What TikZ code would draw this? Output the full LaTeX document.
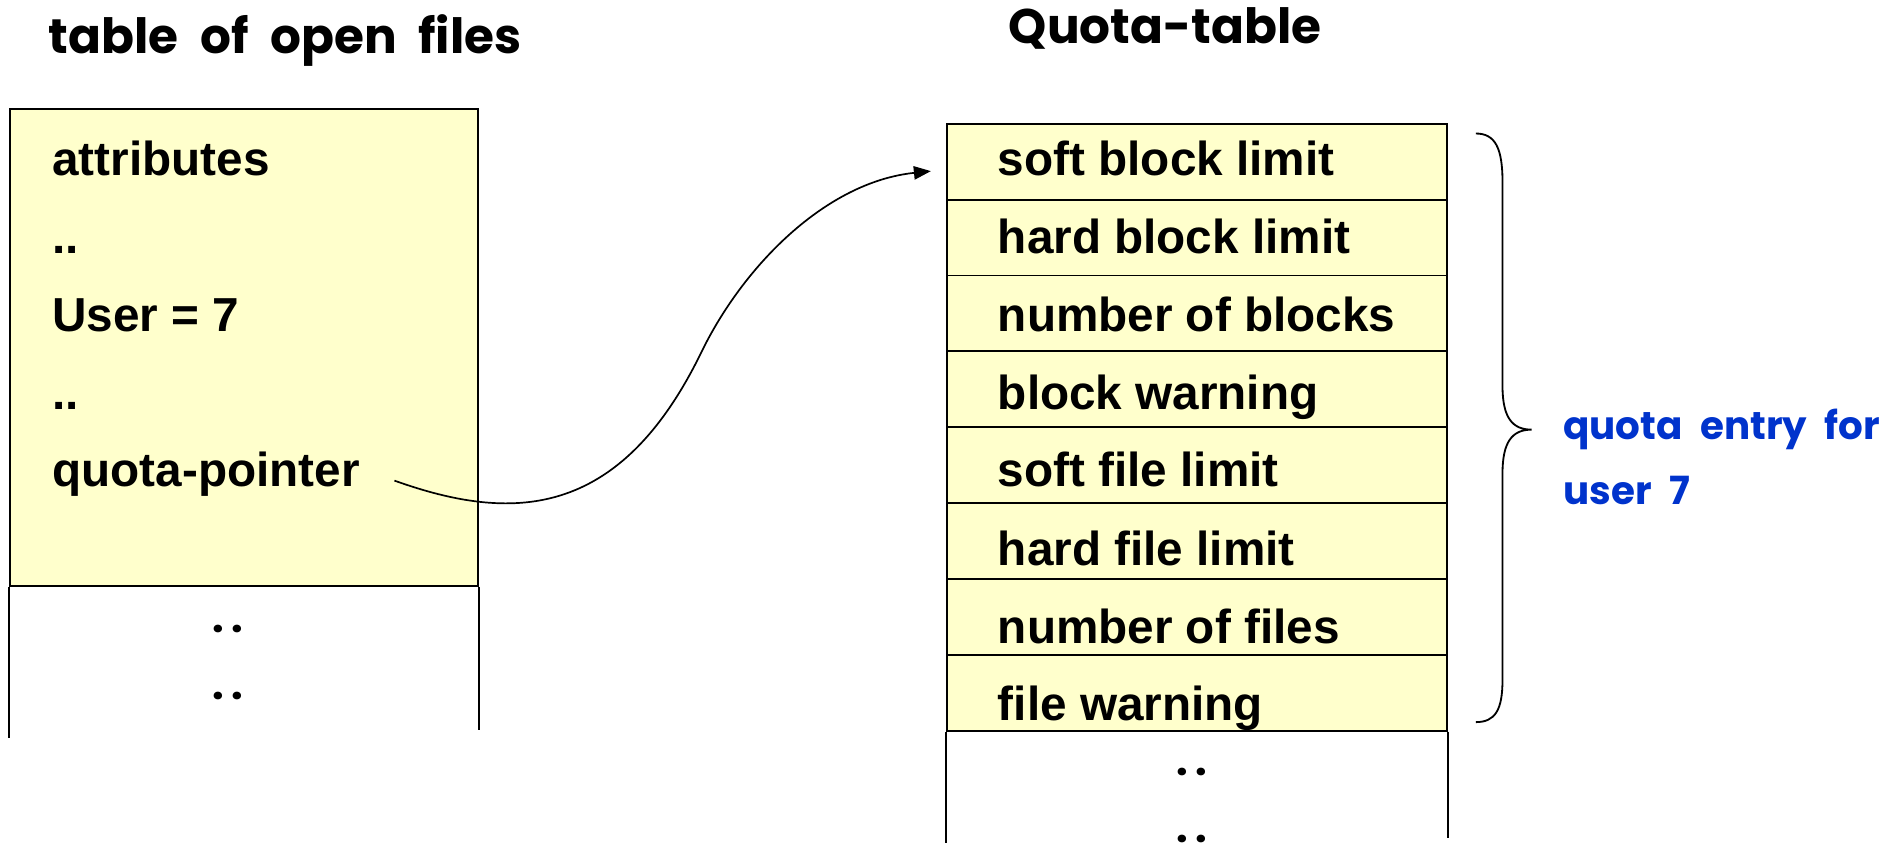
\documentclass[tikz,border=0pt]{standalone}
\usepackage{fontspec}
\setmainfont{Liberation Sans}
\newfontfamily\handfont{Poppins}[WordSpace=2.1]
\usetikzlibrary{arrows.meta}
\definecolor{celly}{HTML}{FFFFCC}
\definecolor{noteblue}{HTML}{0033CC}

\begin{document}
\begin{tikzpicture}[x=1pt,y=-1pt,
  frame/.style={line width=1.5pt},
  cellbox/.style={draw=black, fill=celly, line width=1.5pt, inner sep=0pt},
  qrow/.style={cellbox, minimum width=412pt, minimum height=62.5pt},
  body/.style={font=\fontsize{39.3}{45}\selectfont\bfseries, inner sep=0pt, anchor=base west},
  heading/.style={font=\handfont\bfseries\fontsize{40}{46}\selectfont, inner sep=0pt, anchor=base},
  note/.style={font=\handfont\bfseries\fontsize{32}{38}\selectfont, text=noteblue, inner sep=0pt, anchor=base west},
  gap/.style={font=\handfont\bfseries\fontsize{34}{38}\selectfont, inner sep=0pt, anchor=base},
  ptr/.style={line width=1.4pt, -{Triangle[length=14pt,width=11pt]}},
  brace/.style={line width=1.5pt}]
\useasboundingbox (0,0) rectangle (1568,694);

% headings
\node[heading] (h1) at (235,44) {table of open files};
\node[heading] (h2) at (960,36) {Quota-table};

% table of open files
\node[cellbox, minimum width=386pt, minimum height=393pt] (oft) at (201,286.5) {};
\draw[frame] (oft.south west) -- ++(0,124);
\draw[frame] (oft.south east) -- ++(0,118);
\node[body] (a1) at (43,145) {attributes};
\node[body] (a2) at (43,209) {..};
\node[body] (a3) at (43,273) {User = 7};
\node[body] (a4) at (43,337) {..};
\node[body] (qp) at (43,401) {quota-pointer};
\node[gap] (d1) at (188,521) {.\kern6pt.};
\node[gap] (d2) at (188,576) {.\kern6pt.};

% quota table
\foreach \i in {1,...,8}{
  \node[qrow] (r\i) at (986,{102+62.5*(\i-0.5)}) {};
}
\node[body] (q1) at (822,145) {soft block limit};
\node[body] (q2) at (822,209) {hard block limit};
\node[body] (q3) at (822,273) {number of blocks};
\node[body] (q4) at (822,337) {block warning};
\node[body] (q5) at (822,401) {soft file limit};
\node[body] (q6) at (822,466) {hard file limit};
\node[body] (q7) at (822,530) {number of files};
\node[body] (q8) at (822,594) {file warning};
\draw[frame] (r8.south west) -- ++(0,92);
\draw[frame] (r8.south east) -- ++(0,88);
\node[gap] (d3) at (982,639) {.\kern6pt.};
\node[gap] (d4) at (982,694) {.\kern6pt.};

% pointer from the open-file entry to the quota entry
\coordinate (ps) at (325,396);
\coordinate (pm) at (578,290);
\coordinate (pe) at (767,141);
\draw[ptr] (ps) .. controls (420,430) and (510,430) .. (pm)
                .. controls (612,220) and (680,150) .. (pe);

% brace around the entry
\coordinate (bt) at (1216,110);
\coordinate (bm) at (1262,354);
\coordinate (bb) at (1216,595);
\draw[brace] (bt) .. controls (1232,110) and (1238,122) .. (1238,150)
  -- (1238,318) .. controls (1238,344) and (1246,354) .. (bm)
  .. controls (1246,354) and (1238,364) .. (1238,390)
  -- (1238,560) .. controls (1238,585) and (1232,595) .. (bb);
\node[note] (n1) at (1288,362) {quota entry for};
\node[note] (n2) at (1288,416) {user 7};
\end{tikzpicture}
\end{document}
